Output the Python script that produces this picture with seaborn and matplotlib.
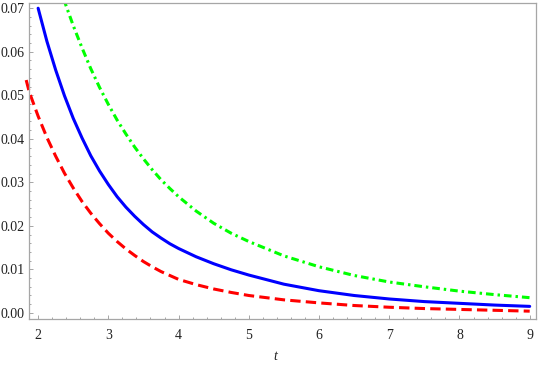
import matplotlib
matplotlib.use("Agg")
import matplotlib.pyplot as plt
import seaborn as sns
from matplotlib.ticker import MultipleLocator, FormatStrFormatter

# values
t_blue = [2.0, 2.125, 2.25, 2.375, 2.5, 2.625, 2.75, 2.875, 3.0, 3.125, 3.25,
          3.375, 3.5, 3.625, 3.75, 3.875, 4.0, 4.25, 4.5, 4.75, 5.0, 5.5,
          6.0, 6.5, 7.0, 7.5, 8.0, 8.5, 9.0]
blue = [0.0700, 0.0624, 0.0558, 0.0499, 0.0447, 0.0402, 0.0361, 0.0326,
        0.0295, 0.0267, 0.0243, 0.0222, 0.0203, 0.0186, 0.0172, 0.0159,
        0.0148, 0.0129, 0.0113, 0.0099, 0.0087, 0.0066, 0.0051, 0.0040,
        0.0032, 0.0026, 0.0022, 0.0018, 0.0015]

t_red = [1.83, 1.875, 2.0, 2.125, 2.25, 2.375, 2.5, 2.625, 2.75, 2.875, 3.0,
         3.125, 3.25, 3.375, 3.5, 3.625, 3.75, 3.875, 4.0, 4.25, 4.5, 4.75,
         5.0, 5.5, 6.0, 6.5, 7.0, 7.5, 8.0, 8.5, 9.0]
red = [0.0535, 0.0507, 0.0452, 0.0403, 0.0360, 0.0321, 0.0287, 0.0256,
       0.0229, 0.0205, 0.0183, 0.0164, 0.0147, 0.0132, 0.0118, 0.0106,
       0.0095, 0.0086, 0.0077, 0.0065, 0.0055, 0.0047, 0.0040, 0.0030,
       0.0023, 0.0017, 0.0013, 0.0010, 0.0008, 0.0006, 0.0004]

t_green = [2.25, 2.375, 2.5, 2.625, 2.75, 2.875, 3.0, 3.125, 3.25, 3.375,
           3.5, 3.625, 3.75, 3.875, 4.0, 4.25, 4.5, 4.75, 5.0, 5.5, 6.0,
           6.5, 7.0, 7.5, 8.0, 8.5, 9.0]
green = [0.0778, 0.0716, 0.0660, 0.0609, 0.0561, 0.0518, 0.0479, 0.0443,
         0.0411, 0.0381, 0.0354, 0.0329, 0.0306, 0.0286, 0.0267, 0.0234,
         0.0206, 0.0183, 0.0164, 0.0131, 0.0106, 0.0086, 0.0071, 0.0060,
         0.0050, 0.0042, 0.0035]

x_ticks = [2, 3, 4, 5, 6, 7, 8, 9]

sns.set_theme(style="white")
plt.rcParams["font.family"] = ["Liberation Serif", "DejaVu Serif"]

axis_gray = "#a6a6a6"

fig = plt.figure(figsize=(5.4, 3.66), dpi=100)
ax = fig.add_axes([29 / 540, 47 / 366, 507 / 540, 316 / 366])

lw = 2.2
sns.lineplot(x=t_red, y=red, ax=ax, color=(1, 0, 0), lw=lw,
             linestyle=(0, (3.4, 1.7)), clip_on=False)
sns.lineplot(x=t_green, y=green, ax=ax, color=(0, 1, 0), lw=lw,
             linestyle=(0, (2.5, 1.3, 0.8, 1.3)))
sns.lineplot(x=t_blue, y=blue, ax=ax, color=(0, 0, 1), lw=lw)

ax.set_xlim(1.87, 9.09)
ax.set_ylim(-0.0014, 0.0712)

ax.set_xticks(x_ticks)
ax.xaxis.set_minor_locator(MultipleLocator(0.2))
ax.yaxis.set_major_locator(MultipleLocator(0.01))
ax.yaxis.set_minor_locator(MultipleLocator(0.002))
ax.yaxis.set_major_formatter(FormatStrFormatter("%.2f"))

for side in ["left", "bottom", "top", "right"]:
    ax.spines[side].set_color(axis_gray)
    ax.spines[side].set_linewidth(0.9)

ax.tick_params(which="both", direction="in", color=axis_gray, width=0.7,
               top=False, right=False, labelsize=10, labelcolor="#222222")
ax.tick_params(which="major", length=3.2)
ax.tick_params(which="minor", length=1.7)
ax.tick_params(axis="x", which="both", pad=7, bottom=True)
ax.tick_params(axis="y", which="both", pad=3, left=True)

ax.set_xlabel("t", fontstyle="italic", fontsize=10, color="#222222")
ax.xaxis.set_label_coords(0.485, -0.098)
ax.set_ylabel("")

fig.savefig("out.png", dpi=100)
